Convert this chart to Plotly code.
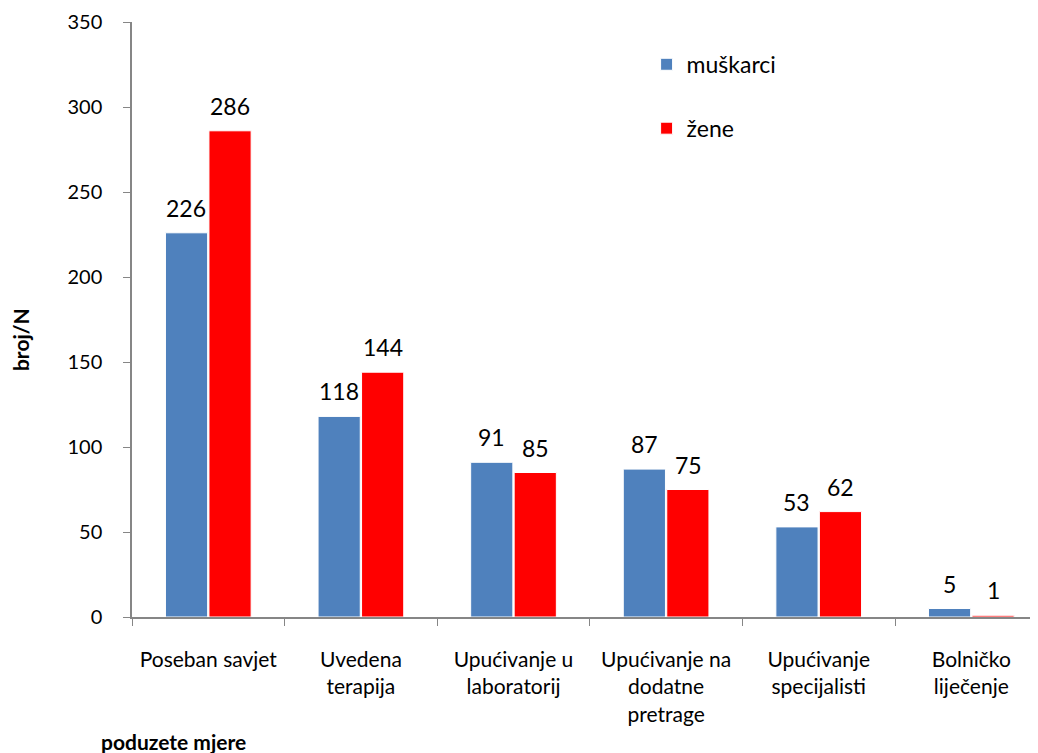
import plotly.graph_objects as go

categories = ["Poseban savjet", "Uvedena<br>terapija", "Upućivanje u<br>laboratorij",
              "Upućivanje na<br>dodatne<br>pretrage", "Upućivanje<br>specijalisti", "Bolničko<br>liječenje"]
muskarci = [226, 118, 91, 87, 53, 5]
zene = [286, 144, 85, 75, 62, 1]

FONT = "Lato, Calibri, Carlito, sans-serif"

fig = go.Figure()
fig.add_trace(go.Bar(name="muškarci", x=categories, y=muskarci, marker_color="#4F81BD",
                     marker_line=dict(color="white", width=1), legendgroup="a"))
fig.add_trace(go.Bar(name="žene", x=categories, y=zene, marker_color="#FF0000",
                     marker_line=dict(color="white", width=1), legendgroup="b"))

annotations = []
for cat, m, z in zip(categories, muskarci, zene):
    annotations.append(dict(x=cat, y=m, text=str(m), xref="x", yref="y", showarrow=False,
                            xshift=-22, yshift=25, font=dict(size=23, family=FONT, color="black"),
                            xanchor="center", yanchor="middle"))
    annotations.append(dict(x=cat, y=z, text=str(z), xref="x", yref="y", showarrow=False,
                            xshift=22, yshift=25, font=dict(size=23, family=FONT, color="black"),
                            xanchor="center", yanchor="middle"))

annotations += [
    dict(text="<b>broj/N</b>", xref="paper", yref="paper", x=-0.1236, y=0.4655,
         textangle=-90, showarrow=False, font=dict(size=21, family=FONT, color="black"),
         xanchor="center", yanchor="middle"),
    dict(text="<b>poduzete mjere</b>", xref="paper", yref="paper", x=-0.036, y=-0.21,
         showarrow=False, font=dict(size=21, family=FONT, color="black"),
         xanchor="left", yanchor="middle"),
]

fig.update_layout(
    width=1030, height=745,
    margin=dict(l=124, r=0, t=14, b=136),
    paper_bgcolor="white", plot_bgcolor="white",
    font=dict(family=FONT, size=20, color="black"),
    barmode="group", bargap=0.43, bargroupgap=0.03,
    showlegend=True,
    legend=dict(x=0.568, y=0.965, xanchor="left", yanchor="top",
                font=dict(size=23, family=FONT), tracegroupgap=31,
                traceorder="grouped", bgcolor="rgba(0,0,0,0)"),
    xaxis=dict(range=[-0.5, 5.437], showline=True, linecolor="#868686", linewidth=1.5,
               ticks="outside", tickson="boundaries", ticklen=7, tickcolor="#868686",
               tickfont=dict(size=21, family=FONT), showgrid=False, ticklabelstandoff=23),
    yaxis=dict(range=[0, 350], dtick=50, showline=True, linecolor="#868686", linewidth=1.5,
               ticks="outside", ticklen=7, tickcolor="#868686", showgrid=False, zeroline=False,
               tickfont=dict(size=20, family=FONT), ticklabelstandoff=17),
    annotations=annotations,
)

fig.write_html("out.html")
